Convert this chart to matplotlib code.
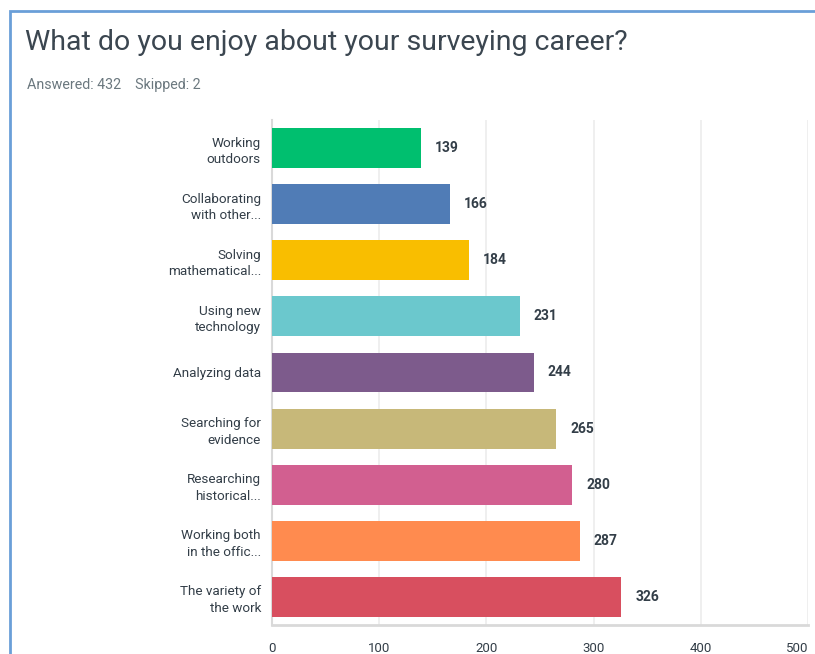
import matplotlib.pyplot as plt
from matplotlib.patches import Rectangle

# Survey answers
labels = ['Working\noutdoors', 'Collaborating\nwith other...', 'Solving\nmathematical...',
          'Using new\ntechnology', 'Analyzing data', 'Searching for\nevidence',
          'Researching\nhistorical...', 'Working both\nin the offic...', 'The variety of\nthe work']
counts = [139, 166, 184, 231, 244, 265, 280, 287, 326]
colors = ['#00bf6f', '#507cb6', '#f9be00', '#6bc8cd', '#7d5b8c',
          '#c7b879', '#d25f90', '#ff8b4f', '#d84f5f']
xticks = [0, 100, 200, 300, 400, 500]

plt.rcParams['font.family'] = ['Roboto', 'DejaVu Sans']

fig = plt.figure(figsize=(8.15, 6.54), dpi=100)

# Blue frame around the card
fig.add_artist(Rectangle((10/815, -0.1), 1.0, 1 - 11/654 + 0.1, transform=fig.transFigure,
                         fill=False, edgecolor='#6a9fd8', linewidth=2))

fig.text(25/815, 1 - 42/654, 'What do you enjoy about your surveying career?',
         fontsize=20.5, color='#3b4650', va='center', ha='left')
fig.text(27/815, 1 - 85/654, 'Answered: 432    Skipped: 2',
         fontsize=10.3, color='#6b787f', va='center', ha='left')

ax = fig.add_axes([272/815, 1 - 625/654, (808 - 272)/815, (625 - 120)/654])
y = list(range(len(labels)))
ax.barh(y, counts, height=0.71, color=colors, zorder=3)

# Value labels
for yi, c in zip(y, counts):
    ax.text(c + 13, yi, str(c), va='center', ha='left', fontsize=10,
            fontweight='bold', color='#333e48')

ax.set_xlim(0, 500)
ax.set_ylim(8.5, -0.5)
ax.set_yticks(y)
ax.set_yticklabels(labels, fontsize=9.7, color='#333e48', linespacing=1.35)
ax.set_xticks(xticks)
ax.set_xticklabels([str(t) for t in xticks], fontsize=9.5, color='#333e48')
ax.get_xticklabels()[-1].set_horizontalalignment('right')
ax.tick_params(axis='both', length=0, pad=8)
ax.tick_params(axis='x', pad=12)

ax.grid(axis='x', color='#ececec', linewidth=1.2, zorder=0)
for s in ['top', 'right']:
    ax.spines[s].set_visible(False)
ax.spines['left'].set_color('#d9d9d9')
ax.spines['left'].set_linewidth(1.5)
ax.spines['bottom'].set_color('#d9d9d9')
ax.spines['bottom'].set_linewidth(2)

plt.savefig('out.png', dpi=100)
